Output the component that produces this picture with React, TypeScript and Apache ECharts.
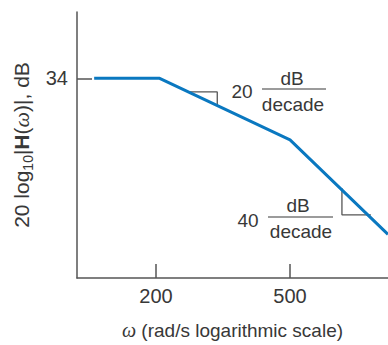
import React, { useEffect, useRef } from 'react';
import * as echarts from 'echarts';

// Asymptotic Bode magnitude
const omega = [131, 205, 500, 977];
const gainDb = [34, 34, 26.1, 14];
const xTicks = [200, 500];
const yTicks = [34];
const xRange = [116.5, 977];
const yRange = [8.4, 42.5];
// slope marker corners (data space)
const slope20Omega = [251, 304, 304];
const slope20Db = [32.25, 32.25, 30.58];
const slope40Omega = [713, 713, 869];
const slope40Db = [19.9, 16.5, 16.5];

const FONT = 'Liberation Sans, Arial, sans-serif';
const TEXT = '#383838';
const AXIS = '#555';
const BLUE = '#0a78c0';

export default function App() {
  const ref = useRef<HTMLDivElement>(null);
  useEffect(() => {
    if (!ref.current) return;
    const chart = echarts.init(ref.current, undefined, { renderer: 'svg' });
    const pts = (xs: number[], ys: number[]) => xs.map((x, i) => [x, ys[i]]);
    const axisLine = { show: true, onZero: false, lineStyle: { color: AXIS, width: 1.5 } };
    const txt = (text: string, x: number, y: number) => ({
      type: 'text', x, y,
      style: { text, fontSize: 19, fontFamily: FONT, fill: TEXT, align: 'center', verticalAlign: 'middle' },
    });
    const hline = (x1: number, x2: number, y: number) => ({
      type: 'line', shape: { x1, y1: y, x2, y2: y }, style: { stroke: TEXT, lineWidth: 1.2 },
    });
    chart.setOption({
      animation: false,
      grid: { left: 77, right: 0, top: 12, bottom: 60, containLabel: false },
      xAxis: {
        type: 'log', logBase: 10, min: xRange[0], max: xRange[1],
        axisLine,
        axisTick: { show: true, inside: true, length: 14, customValues: xTicks, lineStyle: { color: AXIS, width: 1.5 } },
        minorTick: { show: false },
        axisLabel: { customValues: xTicks, fontSize: 20, fontFamily: FONT, color: TEXT, margin: 8 },
        splitLine: { show: false },
        name: '{w|ω} (rad/s logarithmic scale)',
        nameLocation: 'middle', nameGap: 42,
        nameTextStyle: {
          fontSize: 19, fontFamily: FONT, color: TEXT,
          rich: { w: { fontSize: 20, fontFamily: 'Liberation Serif, serif', fontStyle: 'italic', color: TEXT } },
        },
      },
      yAxis: {
        type: 'value', min: yRange[0], max: yRange[1],
        axisLine,
        axisTick: { show: true, inside: true, length: 15, customValues: yTicks, lineStyle: { color: AXIS, width: 1.5 } },
        axisLabel: { customValues: yTicks, fontSize: 20, fontFamily: FONT, color: TEXT, margin: 9 },
        splitLine: { show: false },
        name: '20 log{sub|10}|{b|H}({w|ω})|, dB',
        nameLocation: 'middle', nameRotate: 90, nameGap: 41,
        nameTextStyle: {
          fontSize: 21, fontFamily: FONT, color: TEXT, verticalAlign: 'bottom',
          rich: {
            sub: { fontSize: 14, fontFamily: FONT, color: TEXT, verticalAlign: 'top', padding: [12, 0, 0, 0] },
            b: { fontSize: 21, fontFamily: FONT, fontWeight: 'bold', color: TEXT },
            w: { fontSize: 22, fontFamily: 'Liberation Serif, serif', fontStyle: 'italic', color: TEXT },
          },
        },
      },
      series: [
        {
          type: 'line', data: pts(omega, gainDb), showSymbol: false,
          lineStyle: { color: BLUE, width: 3 }, z: 3,
        },
        {
          type: 'line', data: pts(slope20Omega, slope20Db), showSymbol: false,
          lineStyle: { color: AXIS, width: 1.3 }, z: 2,
        },
        {
          type: 'line', data: pts(slope40Omega, slope40Db), showSymbol: false,
          lineStyle: { color: AXIS, width: 1.3 }, z: 2,
        },
      ],
      graphic: [
        txt('20', 242, 91),
        txt('dB', 292, 78),
        hline(262, 326, 89),
        txt('decade', 293, 104),
        txt('40', 248, 220),
        txt('dB', 298, 205),
        hline(268, 333, 217),
        txt('decade', 301, 231),
      ],
    });
    return () => chart.dispose();
  }, []);
  return <div ref={ref} style={{ position: 'absolute', left: 0, top: 0, width: 388, height: 345 }} />;
}
